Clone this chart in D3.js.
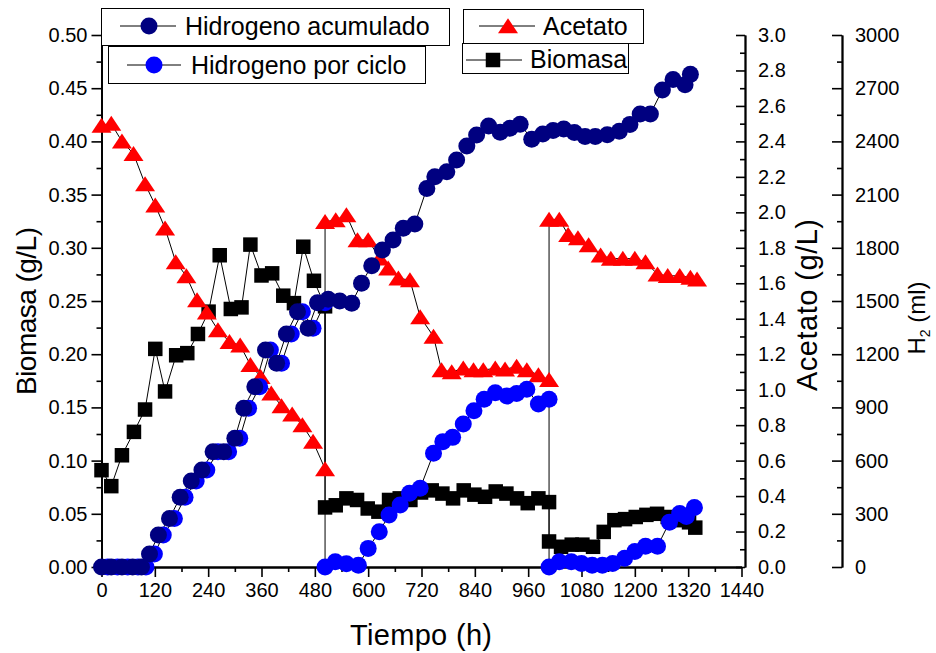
<!DOCTYPE html>
<html><head><meta charset="utf-8">
<script src="https://cdn.jsdelivr.net/npm/d3@7"></script>
<style>
body{margin:0;background:#fff;}
svg{display:block;font-family:"Liberation Sans",Arial,sans-serif;}
</style></head><body>
<svg id="c" width="936" height="653"></svg>
<script>
// ---- data ----
const tBiomasa = [0,22,46,73,98,121,143,168,193,217,241,266,291,315,335,360,384,409,433,454,478,503,
  503,527,551,575,599,623,647,671,695,719,743,767,791,815,839,863,887,911,935,959,983,1007,
  1007,1034,1058,1082,1106,1130,1154,1178,1202,1226,1250,1274,1298,1322,1336];
const biomasa = [0.091,0.076,0.105,0.127,0.148,0.205,0.165,0.199,0.201,0.219,0.240,0.293,0.2425,0.244,0.303,0.274,0.276,0.255,0.248,0.301,0.269,0.245,
  0.056,0.058,0.0645,0.063,0.055,0.052,0.063,0.0645,0.063,0.070,0.072,0.069,0.0645,0.072,0.068,0.066,0.071,0.069,0.0645,0.060,0.0645,0.061,
  0.024,0.019,0.021,0.021,0.019,0.033,0.044,0.045,0.047,0.049,0.050,0.047,0.044,0.042,0.037];

const tAcetato = [0,22,46,72,98,121,143,167,191,215,237,262,288,312,335,358,382,405,429,452,476,503,
  503,527,551,576,600,626,645,668,694,717,747,765,788,814,837,859,886,908,934,957,983,1007,
  1007,1030,1050,1072,1096,1123,1146,1173,1200,1224,1251,1274,1301,1325,1340];
const acetato = [2.49,2.50,2.40,2.33,2.16,2.04,1.91,1.72,1.64,1.506,1.436,1.336,1.27,1.25,1.14,1.073,0.98,0.908,0.861,0.80,0.707,0.553,
  1.947,1.957,1.985,1.844,1.844,1.741,1.684,1.628,1.618,1.41,1.30,1.111,1.10,1.12,1.111,1.111,1.12,1.115,1.13,1.111,1.083,1.055,
  1.96,1.96,1.874,1.855,1.816,1.758,1.739,1.739,1.739,1.72,1.651,1.642,1.642,1.632,1.622];

const tAcumulado = [0,22,46,70,90,108,128,153,177,202,226,251,275,300,320,345,369,394,416,441,465,486,510,536,563,585,608,632,656,679,705,
  732,750,777,799,822,844,871,897,919,942,968,993,1016,1040,1064,1088,1111,1138,1165,1189,1212,1235,1262,1286,1313,1325];
const hAcumulado = [0,0,0,0,0,73,180,274,393,485,547,650,650,726,895,1017,1224,1149,1314,1440,1346,1490,1510,1500,1487,1600,1699,1788,1844,1910,1934,
  2135,2201,2229,2295,2374,2436,2487,2451,2474,2497,2412,2442,2462,2470,2450,2428,2428,2438,2457,2496,2555,2555,2690,2749,2719,2778];

const tCiclo = [14,36,59,82,100,119,139,164,188,213,237,262,286,311,331,356,380,405,427,452,476,503,
  503,526,551,578,600,625,647,672,693,717,747,768,790,814,838,861,886,912,934,957,983,1007,
  1007,1030,1057,1080,1104,1127,1150,1177,1200,1224,1251,1278,1301,1316,1334];
const hCiclo = [0,0,0,0,0,73,180,274,393,485,547,650,650,726,895,1017,1224,1149,1314,1440,1346,1490,
  0,30,18,10,105,199,293,350,416,444,641,707,731,806,881,946,983,964,979,1002,919,946,
  0,30,30,20,10,10,20,49,88,117,117,253,302,285,335];

const xTicks = d3.range(0,1441,120);
const yBTicks = d3.range(0,0.5001,0.05);
const yATicks = d3.range(0,3.001,0.2);
const yHTicks = d3.range(0,3001,300);

// ---- drawing ----
const svg = d3.select("#c");
const FONT = '"Liberation Sans",Arial,sans-serif';
const x = d3.scaleLinear([0,1440],[101.5,741.5]);
const yB = d3.scaleLinear([0,0.5],[567,35]);
const yA = d3.scaleLinear([0,3],[567,35]);
const yH = d3.scaleLinear([0,3000],[567,35]);

function styleAxis(g){
  g.selectAll("path").attr("stroke","#000").attr("stroke-width",1.8);
  g.selectAll("line").attr("stroke","#000").attr("stroke-width",1.6);
  g.selectAll("text").attr("fill","#000").style("font-size","20px").style("font-family",FONT);
}
// x axis
svg.append("g").attr("transform","translate(0,567)")
  .call(d3.axisBottom(x).tickValues(d3.range(60,1440,120)).tickFormat("").tickSize(5).tickSizeOuter(0)).call(styleAxis);
svg.append("g").attr("transform","translate(0,567)")
  .call(d3.axisBottom(x).tickValues(xTicks).tickFormat(d3.format("d")).tickSize(10).tickPadding(6).tickSizeOuter(0)).call(styleAxis);
// left axis
svg.append("g").attr("transform","translate(101.5,0)")
  .call(d3.axisLeft(yB).tickValues(d3.range(0.025,0.5,0.05)).tickFormat("").tickSize(5).tickSizeOuter(0)).call(styleAxis);
svg.append("g").attr("transform","translate(101.5,0)")
  .call(d3.axisLeft(yB).tickValues(yBTicks).tickFormat(d3.format(".2f")).tickSize(10).tickPadding(4).tickSizeOuter(0)).call(styleAxis);
// acetato axis
svg.append("g").attr("transform","translate(745,0)")
  .call(d3.axisRight(yA).tickValues(d3.range(0.1,3,0.2)).tickFormat("").tickSizeInner(-5).tickSizeOuter(0)).call(styleAxis);
svg.append("g").attr("transform","translate(745,0)")
  .call(d3.axisRight(yA).tickValues(yATicks).tickFormat(d3.format(".1f")).tickSizeInner(-9).tickPadding(13).tickSizeOuter(0)).call(styleAxis);
// H2 axis
svg.append("g").attr("transform","translate(842,0)")
  .call(d3.axisRight(yH).tickValues(d3.range(150,3000,300)).tickFormat("").tickSizeInner(-5).tickSizeOuter(0)).call(styleAxis);
svg.append("g").attr("transform","translate(842,0)")
  .call(d3.axisRight(yH).tickValues(yHTicks).tickFormat(d3.format("d")).tickSizeInner(-10).tickPadding(13).tickSizeOuter(0)).call(styleAxis);

// titles
svg.append("text").attr("x",421).attr("y",645).attr("text-anchor","middle")
  .style("font-size","29px").attr("textLength",142).text("Tiempo (h)");
svg.append("text").attr("transform","translate(36,311) rotate(-90)").attr("text-anchor","middle")
  .style("font-size","28px").attr("textLength",168).text("Biomasa (g/L)");
svg.append("text").attr("transform","translate(817,305) rotate(-90)").attr("text-anchor","middle")
  .style("font-size","29px").attr("textLength",172).text("Acetato (g/L)");
const h2 = svg.append("text").attr("transform","translate(925,318) rotate(-90)").attr("text-anchor","middle")
  .style("font-size","24px");
h2.append("tspan").text("H");
h2.append("tspan").attr("dy",5).style("font-size","14px").text("2");
h2.append("tspan").attr("dy",-5).text(" (ml)");

// series
function series(ts, vs, ysc){ return ts.map((t,i)=>[x(t), ysc(vs[i])]); }
const line = d3.line();
const pB = series(tBiomasa,biomasa,yB);
const pA = series(tAcetato,acetato,yA);
const pC = series(tCiclo,hCiclo,yH);
const pU = series(tAcumulado,hAcumulado,yH);
[pB,pA,pC,pU].forEach(p=>svg.append("path").attr("d",line(p)).attr("fill","none").attr("stroke","#000").attr("stroke-width",1));

const sq = 14.5;
svg.append("g").selectAll("rect").data(pB).join("rect")
  .attr("x",d=>d[0]-sq/2).attr("y",d=>d[1]-sq/2).attr("width",sq).attr("height",sq).attr("fill","#000");
// flat triangle marker (base 20, height 15), centred on its bounding box
const flatTri = { draw(ctx){ ctx.moveTo(0,-7.8); ctx.lineTo(10,7.2); ctx.lineTo(-10,7.2); ctx.closePath(); } };
const tri = d3.symbol().type(flatTri);
svg.append("g").selectAll("path").data(pA).join("path")
  .attr("transform",d=>`translate(${d[0]},${d[1]})`).attr("d",tri).attr("fill","#ff0000");
svg.append("g").selectAll("circle").data(pC).join("circle")
  .attr("cx",d=>d[0]).attr("cy",d=>d[1]).attr("r",8.5).attr("fill","#0000ff");
svg.append("g").selectAll("circle").data(pU).join("circle")
  .attr("cx",d=>d[0]).attr("cy",d=>d[1]).attr("r",8.5).attr("fill","#000080");

// legends
function legendBox(bx,by,bw,bh,lx1,lx2,mx,my,tx,ty,label,kind,color){
  const g = svg.append("g");
  g.append("rect").attr("x",bx+0.5).attr("y",by+0.5).attr("width",bw).attr("height",bh)
    .attr("fill","#fff").attr("stroke","#000").attr("stroke-width",1);
  g.append("line").attr("x1",lx1).attr("x2",lx2).attr("y1",my).attr("y2",my).attr("stroke","#000").attr("stroke-width",1);
  if(kind==="circle") g.append("circle").attr("cx",mx).attr("cy",my).attr("r",8.5).attr("fill",color);
  if(kind==="tri") g.append("path").attr("transform",`translate(${mx},${my})`).attr("d",tri).attr("fill",color);
  if(kind==="sq") g.append("rect").attr("x",mx-sq/2).attr("y",my-sq/2).attr("width",sq).attr("height",sq).attr("fill",color);
  g.append("text").attr("x",tx).attr("y",ty).style("font-size","25px").text(label);
}
legendBox(101,8,348,37,120,176,149,26,185,35,"Hidrogeno acumulado","circle","#000080");
legendBox(108,46,317,37,127,181,154,65,191,74,"Hidrogeno por ciclo","circle","#0000ff");
legendBox(463,9,180,34,479,535,508,26,543,35,"Acetato","tri","#ff0000");
legendBox(462,43,166,30,466,522,493,60,530,68,"Biomasa","sq","#000");
</script>
</body></html>
